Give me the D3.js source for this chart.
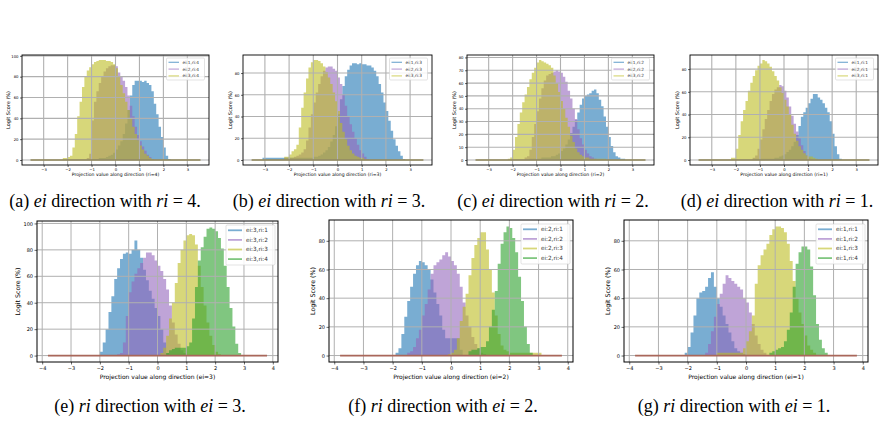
<!DOCTYPE html>
<html><head><meta charset="utf-8">
<script src="https://cdn.jsdelivr.net/npm/d3@7"></script>
<style>body{margin:0;background:#fff} svg{display:block}</style>
</head><body><svg id="c" width="885" height="421"></svg>
<script>
const binWidth = 0.1;
const seriesColors = ["#1f77b4","#9467bd","#bcbd22","#2ca02c"];
const xTicksTop = [-3,-2,-1,0,1,2,3];
const xTicksBottom = [-4,-3,-2,-1,0,1,2,3,4];
const zeroLineTop = [-3.55, 3.55];
const zeroLineBottom = [-3.8, 3.8];

// (a) ei direction with ri = 4
const labelsA = ["ei:1,ri:4","ei:2,ri:4","ei:3,ri:4"];
const startsA = [-1.0, -1.2, -2.2];
const blueA = [1,1,1,2,2,2,3,4,5,7,10,14,18,25,35,48,62,72,76,76,76,75,76,74,72,66,54,44,32,22,12,4,1];
const purpleA = [2,6,38,56,66,74,80,85,88,90,91,91,90,84,80,76,70,62,52,42,32,24,18,13,9,5,3,1];
const oliveA = [2,2,3,4,12,25,42,56,70,80,86,89,92,94,95,96,96,96,95,95,94,92,88,80,72,64,56,48,40,32,25,19,14,10,6,4,2,1];
const yTicksA = [0,20,40,60,80,100];

// (b) ei direction with ri = 3
const labelsB = ["ei:1,ri:3","ei:2,ri:3","ei:3,ri:3"];
const startsB = [-3.1, -2.2, -2.2];
const blueB = [2,2,2,2,2,2,2,2,2,2,2,2,2,2,2,2,2,2,2,2,2,3,3,4,5,7,9,12,17,23,31,42,56,68,77,83,87,89,89,88,89,88,88,87,87,85,82,77,70,62,53,45,36,27,19,13,8,4,1];
const purpleB = [2,2,2,2,3,4,5,7,10,18,30,42,53,62,70,77,82,85,86,86,84,82,76,70,60,50,40,33,26,20,14,9,6,3,1];
const oliveB = [3,3,5,8,10,14,30,48,62,75,85,90,92,92,91,89,86,81,76,70,62,54,45,34,26,19,13,9,6,4,3,2,2,1];
const yTicksB = [0,20,40,60,80];

// (c) ei direction with ri = 2
const labelsC = ["ei:1,ri:2","ei:2,ri:2","ei:3,ri:2"];
const startsC = [-1.3, -1.5, -2.2];
const blueC = [1,1,1,1,1,2,2,2,2,3,3,4,5,7,9,12,16,21,26,31,37,43,48,50,51,52,54,55,52,47,42,34,26,18,11,6,3,2,1,1];
const purpleC = [2,3,8,18,28,38,48,56,62,66,67,68,69,70,69,68,65,61,54,48,40,32,24,17,12,8,5,3,2,1];
const oliveC = [1,2,8,18,28,37,45,51,57,63,68,72,76,78,77,76,75,74,72,66,60,53,46,40,33,26,19,14,9,6,4,3,2,2,1,1,1,1,1,1,1];
const yTicksC = [0,10,20,30,40,50,60,70,80];

// (d) ei direction with ri = 1
const labelsD = ["ei:1,ri:1","ei:2,ri:1","ei:3,ri:1"];
const startsD = [-1.3, -1.3, -2.2];
const blueD = [1,1,1,1,1,1,1,1,1,2,2,3,4,5,7,9,12,16,22,30,38,42,46,50,54,58,58,55,53,50,46,42,34,23,12,5,1];
const purpleD = [2,4,10,18,27,36,44,52,58,62,64,66,65,61,55,47,39,32,25,19,13,8,4,2,1];
const oliveD = [2,2,10,22,34,44,52,61,68,74,79,83,85,88,87,85,82,78,74,70,64,59,53,47,40,31,23,17,12,9,6,4,3,3,2,1];
const yTicksD = [0,20,40,60,80];

// (e) ri direction with ei = 3
const labelsE = ["ei:3,ri:1","ei:3,ri:2","ei:3,ri:3","ei:3,ri:4"];
const startsE = [-2.0, -1.4, 0.1, 0.3];
const blueE = [3,10,20,33,45,58,66,73,77,78,77,80,87,80,74,65,57,49,43,36,30,20,10,2];
const purpleE = [1,2,10,30,48,56,62,66,70,74,78,78,76,72,68,64,58,50,38,25,16,9,4,2];
const oliveE = [2,6,15,28,40,55,70,80,87,91,92,91,84,68,52,38,25,15,8,3,1];
const greenE = [2,4,5,6,6,6,6,7,10,28,52,72,82,90,96,97,96,94,89,81,68,52,36,22,9,2];
const yTicksE = [0,20,40,60,80,100];

// (f) ri direction with ei = 2
const labelsF = ["ei:2,ri:1","ei:2,ri:2","ei:2,ri:3","ei:2,ri:4"];
const startsF = [-1.9, -1.5, -0.1, 0.6];
const blueF = [2,5,15,27,38,48,57,63,66,65,63,60,53,44,36,28,18,12,12,12,12,12,4];
const purpleF = [2,3,6,12,18,28,36,46,57,63,65,67,70,72,69,66,63,57,48,37,28,20,13,8,5,2,1];
const oliveF = [1,2,4,12,24,34,43,56,68,77,82,86,86,74,60,44,28,15,7,4,3,2,2,2,2,2,2,2,2,2,2,2];
const greenF = [3,4,4,5,6,6,10,20,32,45,64,78,86,90,89,82,72,55,38,20,8,2];
const yTicksF = [0,20,40,60,80];

// (g) ri direction with ei = 1
const labelsG = ["ei:1,ri:1","ei:1,ri:2","ei:1,ri:3","ei:1,ri:4"];
const startsG = [-2.1, -1.4, -1.0, 0.8];
const blueG = [2,6,16,28,40,44,45,48,54,58,48,40,34,28,22,16,10,5,3,2,1];
const purpleG = [2,8,17,27,36,43,50,56,54,52,50,48,46,40,37,30,22,14,8,4,2];
const oliveG = [2,2,2,2,2,2,2,2,2,5,10,17,28,50,63,70,74,78,84,88,90,90,89,86,78,66,52,40,30,22,14,7,4,2];
const greenG = [2,3,4,5,6,10,18,30,48,64,72,76,76,74,62,42,22,11,5,2];
const yTicksG = [0,20,40,60,80];

const svg = d3.select("#c");
let clipId = 0;

function panel(o) {
  const top = o.row === "top";
  const [bx, by, bw, bh] = o.box;
  const xDomain = top ? [-3.905, 3.905] : [-4.18, 4.18];
  const zeroExt = top ? zeroLineTop : zeroLineBottom;
  const xTicks = top ? xTicksTop : xTicksBottom;
  const maxV = d3.max(o.series.map(s => d3.max(s)));
  const x = d3.scaleLinear().domain(xDomain).range([bx, bx + bw]);
  const y = d3.scaleLinear().domain([-0.05 * maxV, 1.05 * maxV]).range([by + bh, by]);
  const g = svg.append("g");
  const cid = "clip" + (clipId++);
  g.append("clipPath").attr("id", cid).append("rect")
    .attr("x", bx).attr("y", by).attr("width", bw).attr("height", bh);
  const plot = g.append("g").attr("clip-path", `url(#${cid})`);

  const area = d3.area().x(d => x(d[0])).y0(y(0)).y1(d => y(d[1])).curve(d3.curveStepAfter);
  o.series.forEach((vals, i) => {
    const pts = vals.map((v, k) => [o.starts[i] + k * binWidth, v]);
    pts.push([o.starts[i] + vals.length * binWidth, 0]);
    plot.append("path").attr("d", area(pts))
      .attr("fill", seriesColors[i]).attr("fill-opacity", 0.6);
  });

  // grid (drawn above patches, as matplotlib default)
  const gridW = top ? 1.1 : 1;
  plot.selectAll(".vg").data(xTicks).enter().append("line")
    .attr("x1", d => x(d)).attr("x2", d => x(d)).attr("y1", by).attr("y2", by + bh)
    .attr("stroke", "#b0b0b0").attr("stroke-width", gridW);
  plot.selectAll(".hg").data(o.yTicks).enter().append("line")
    .attr("y1", d => y(d)).attr("y2", d => y(d)).attr("x1", bx).attr("x2", bx + bw)
    .attr("stroke", "#b0b0b0").attr("stroke-width", gridW);

  // zero line
  plot.append("line").attr("x1", x(zeroExt[0])).attr("x2", x(zeroExt[1]))
    .attr("y1", y(0)).attr("y2", y(0))
    .attr("stroke", top ? "#8f8658" : "#a9675a").attr("stroke-width", top ? 1.6 : 1.8);

  // axes
  const tickFs = top ? 3.8 : 5;
  const fmt = d3.format("d");
  const xa = g.append("g").attr("transform", `translate(0,${by + bh})`)
    .call(d3.axisBottom(x).tickValues(xTicks).tickSize(top ? 2 : 2.5).tickPadding(1.5).tickFormat(fmt));
  const ya = g.append("g").attr("transform", `translate(${bx},0)`)
    .call(d3.axisLeft(y).tickValues(o.yTicks).tickSize(top ? 2 : 2.5).tickPadding(1.5).tickFormat(fmt));
  [xa, ya].forEach(a => {
    a.select(".domain").remove();
    a.selectAll("line").attr("stroke", "#000").attr("stroke-width", 0.6);
    a.selectAll("text").attr("font-family", "DejaVu Sans").attr("font-size", tickFs).attr("fill", "#000");
  });

  g.append("rect").attr("x", bx).attr("y", by).attr("width", bw).attr("height", bh)
    .attr("fill", "none").attr("stroke", "#000").attr("stroke-width", top ? 0.9 : 1);

  // labels
  const labFs = top ? 4.6 : 6;
  g.append("text").attr("x", bx + bw / 2).attr("y", by + bh + (top ? 11 : 17))
    .attr("text-anchor", "middle").attr("font-family", "DejaVu Sans").attr("font-size", labFs)
    .text(o.xlabel);
  const three = d3.max(o.yTicks) >= 100;
  const yoff = top ? (three ? 12 : 11) : (three ? 17.5 : 14.5);
  g.append("text").attr("transform", `translate(${bx - yoff},${by + bh / 2}) rotate(-90)`)
    .attr("text-anchor", "middle").attr("font-family", "DejaVu Sans").attr("font-size", top ? 5 : 6.3)
    .text("Logit Score (%)");

  // legend
  const lw = top ? 38 : 49, rowH = top ? 6.8 : 9.6;
  const lh = top ? 22 : 40;
  const lx = bx + bw - lw - (top ? 4.5 : 3), ly = by + (top ? 3 : 4);
  const leg = g.append("g");
  leg.append("rect").attr("x", lx).attr("y", ly).attr("width", lw).attr("height", lh)
    .attr("rx", 1.2).attr("fill", "#fff").attr("fill-opacity", 0.85)
    .attr("stroke", "#d0d0d0").attr("stroke-width", 0.6);
  o.labels.forEach((lab, i) => {
    const cy = ly + (top ? 4.3 : 5.3) + i * rowH;
    leg.append("line").attr("x1", lx + 2).attr("x2", lx + (top ? 12.5 : 16))
      .attr("y1", cy).attr("y2", cy).attr("stroke", seriesColors[i])
      .attr("stroke-opacity", 0.6).attr("stroke-width", top ? 1.2 : 1.8);
    leg.append("text").attr("x", lx + (top ? 16 : 20)).attr("y", cy).attr("dy", "0.35em")
      .attr("font-family", "DejaVu Sans").attr("font-size", top ? 4.3 : 5.7).attr("fill", "#333")
      .text(lab);
  });

  // caption
  const cap = svg.append("text").attr("x", o.capX).attr("y", top ? 207 : 412)
    .attr("text-anchor", "middle").attr("font-family", "Liberation Serif").attr("font-size", 18);
  cap.append("tspan").text(o.caption[0]);
  cap.append("tspan").attr("font-style", "italic").text(o.caption[1]);
  cap.append("tspan").text(o.caption[2]);
  cap.append("tspan").attr("font-style", "italic").text(o.caption[3]);
  cap.append("tspan").text(o.caption[4]);
}

panel({row:"top", box:[22,55,187,110], labels:labelsA, starts:startsA, series:[blueA,purpleA,oliveA], yTicks:yTicksA,
  xlabel:"Projection value along direction (ri=4)", capX:105, caption:["(a) ","ei"," direction with ","ri"," = 4."]});
panel({row:"top", box:[243,55,189,110], labels:labelsB, starts:startsB, series:[blueB,purpleB,oliveB], yTicks:yTicksB,
  xlabel:"Projection value along direction (ri=3)", capX:329, caption:["(b) ","ei"," direction with ","ri"," = 3."]});
panel({row:"top", box:[467,55,187,110], labels:labelsC, starts:startsC, series:[blueC,purpleC,oliveC], yTicks:yTicksC,
  xlabel:"Projection value along direction (ri=2)", capX:553, caption:["(c) ","ei"," direction with ","ri"," = 2."]});
panel({row:"top", box:[690,55,188,110], labels:labelsD, starts:startsD, series:[blueD,purpleD,oliveD], yTicks:yTicksD,
  xlabel:"Projection value along direction (ri=1)", capX:777, caption:["(d) ","ei"," direction with ","ri"," = 1."]});
panel({row:"bottom", box:[37,221,241,141], labels:labelsE, starts:startsE, series:[blueE,purpleE,oliveE,greenE], yTicks:yTicksE,
  xlabel:"Projection value along direction (ei=3)", capX:150, caption:["(e) ","ri"," direction with ","ei"," = 3."]});
panel({row:"bottom", box:[329,220,244,142], labels:labelsF, starts:startsF, series:[blueF,purpleF,oliveF,greenF], yTicks:yTicksF,
  xlabel:"Projection value along direction (ei=2)", capX:443, caption:["(f) ","ri"," direction with ","ei"," = 2."]});
panel({row:"bottom", box:[624,220,244,142], labels:labelsG, starts:startsG, series:[blueG,purpleG,oliveG,greenG], yTicks:yTicksG,
  xlabel:"Projection value along direction (ei=1)", capX:734, caption:["(g) ","ri"," direction with ","ei"," = 1."]});
</script>
</body></html>
